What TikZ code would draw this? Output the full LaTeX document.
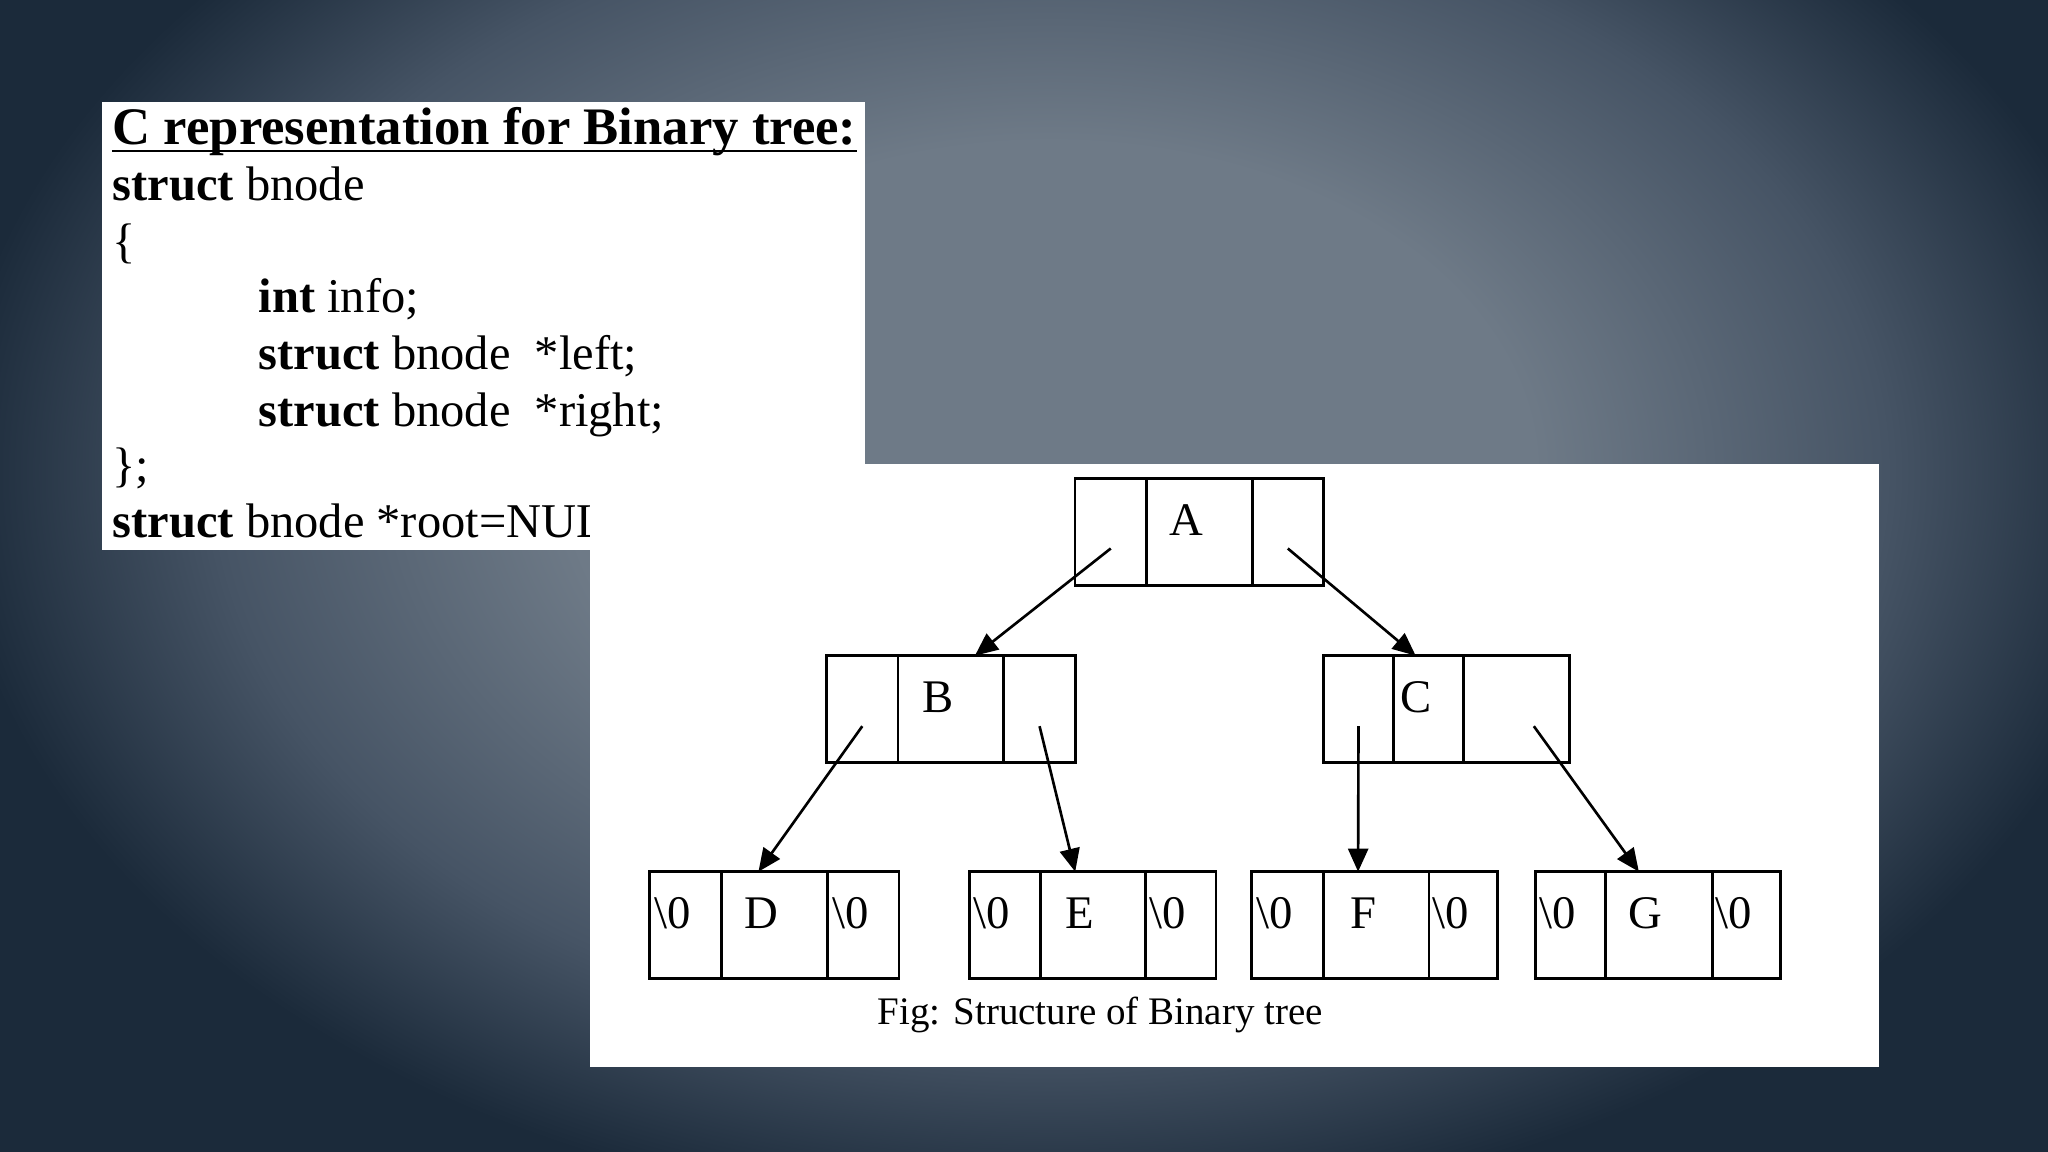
\documentclass[tikz,border=0pt]{standalone}
\usepackage{fontspec}
\setmainfont{Liberation Serif}
\usepackage{tikz}
\usetikzlibrary{positioning,arrows.meta}

\definecolor{bgdark}{HTML}{1B2A3A}
\definecolor{bgmid}{HTML}{465465}
\definecolor{bglight}{HTML}{6E7A87}
\pgfdeclareradialshading{slidebg}{\pgfpoint{0bp}{0bp}}{color(0bp)=(bglight); color(11bp)=(bglight); color(19bp)=(bgmid); color(25bp)=(bgdark); color(50bp)=(bgdark)}
\newcommand{\nullch}{\textbackslash 0}

\begin{document}
\begin{tikzpicture}[
    code/.style={anchor=base west, inner sep=0pt, font=\fontsize{13.8}{16}\selectfont},
    cell/.style={draw, line width=0.85pt, minimum height=1.07cm, inner sep=0pt, outer sep=0pt, anchor=north west},
    lbl/.style={font=\fontsize{13.3}{16}\selectfont, xshift=-0.13cm, yshift=0.12cm},
    ptr/.style={-{Triangle[width=0.2cm,length=0.23cm]}, line width=0.75pt}
]
\useasboundingbox (0,0) rectangle (20.48,11.52);
% Slide background
\fill[bgdark] (0,0) rectangle (20.48,11.52);
\begin{scope}
    \clip (0,0) rectangle (20.48,11.52);
    \shade[shading=slidebg] (-0.5,-0.7) rectangle (21.5,14.3);
\end{scope}
% Left panel: C code
\fill[white] (1.02,6.02) rectangle (8.65,10.50);
\node[code, font=\fontsize{15}{18}\selectfont\bfseries] (title) at (1.12,10.07) {C representation for Binary tree:};
\draw[line width=0.8pt] ([yshift=-0.06cm]title.base west) -- ([yshift=-0.06cm]title.base east);
\node[code] (l1) at (1.12,9.51) {\textbf{struct} bnode};
\node[code] (l2) at (1.12,8.94) {\{};
\node[code] (l3) at (2.58,8.39) {\textbf{int} info;};
\node[code] (l4) at (2.58,7.82) {\textbf{struct} bnode\ \ *left;};
\node[code] (l5) at (2.58,7.25) {\textbf{struct} bnode\ \ *right;};
\node[code] (l6) at (1.12,6.70) {\};};
\begin{scope}
    \clip (1.02,5.9) rectangle (5.90,6.7);
    \node[code] (l7) at (1.12,6.14) {\textbf{struct} bnode *root=NULL;};
\end{scope}
% Right panel: tree
\fill[white] (5.90,0.85) rectangle (18.79,6.88);
\foreach \n/\x/\y/\wA/\wB/\wC/\tA/\tB/\tC in {
    A/10.750/6.730/0.715/1.058/0.710/{}/A/{},
    B/8.266/4.963/0.714/1.058/0.715/{}/B/{},
    C/13.235/4.963/0.700/0.704/1.059/{}/C/{},
    D/6.499/2.803/0.714/1.063/0.714/\nullch/D/\nullch,
    E/9.696/2.803/0.709/1.054/0.701/\nullch/E/\nullch,
    F/12.512/2.803/0.720/1.058/0.685/\nullch/F/\nullch,
    G/15.353/2.803/0.702/1.067/0.685/\nullch/G/\nullch} {
    \node[cell, minimum width=\wA cm, label={[lbl]center:\tA}] (\n-l) at (\x,\y) {};
    \node[cell, minimum width=\wB cm, right=0pt of \n-l, label={[lbl]center:\tB}] (\n-m) {};
    \node[cell, minimum width=\wC cm, right=0pt of \n-m, label={[lbl]center:\tC}] (\n-r) {};
}
% Pointers
\draw[ptr] ([yshift=-0.16cm]A-l.center) -- ([xshift=0.24cm]B-m.north);
\draw[ptr] ([yshift=-0.16cm]A-r.center) -- ([xshift=-0.13cm]C-m.north);
\draw[ptr] ([yshift=-0.17cm]B-l.center) -- ([xshift=-0.16cm]D-m.north);
\draw[ptr] ([yshift=-0.17cm]B-r.center) -- ([xshift=-0.18cm]E-m.north);
\draw[ptr] ([yshift=-0.17cm]C-l.center) -- ([xshift=-0.18cm]F-m.north);
\draw[ptr] ([xshift=0.17cm,yshift=-0.17cm]C-r.center) -- ([xshift=-0.2cm]G-m.north);
% Caption
\node[code, font=\fontsize{11.1}{13.5}\selectfont] (cap) at (8.77,1.27) {Fig: Structure of Binary tree};
\end{tikzpicture}
\end{document}
